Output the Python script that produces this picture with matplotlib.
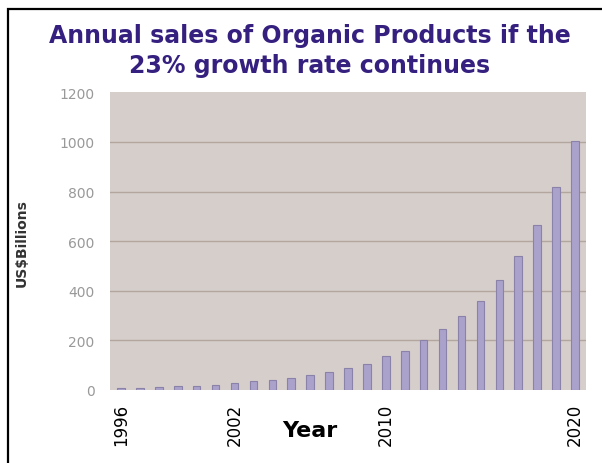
import matplotlib
matplotlib.use("Agg")
import matplotlib.pyplot as plt
from matplotlib.patches import Rectangle

# data (US$ billions)
years = list(range(1996, 2021))
sales = [8, 10, 12, 15, 18, 22, 30, 35, 40, 50, 60, 72, 90, 105, 136,
         158, 200, 246, 297, 360, 443, 542, 665, 820, 1005]
year_ticks = [1996, 2002, 2010, 2020]
y_ticks = [0, 200, 400, 600, 800, 1000, 1200]

title = "Annual sales of Organic Products if the\n23% growth rate continues"

fig = plt.figure(figsize=(6.02, 4.64), dpi=100)
fig.patch.set_facecolor("white")

# black frame round the picture (open at right and bottom edge)
fig.patches.append(Rectangle((8 / 602, -0.05), 1.2, 1 - 10 / 464 + 0.05,
                             transform=fig.transFigure, fill=False,
                             edgecolor="black", linewidth=1.6))

ax = fig.add_axes([110 / 602, 73 / 464, 476 / 602, 297.7 / 464])
ax.set_facecolor("#d6cecb")
ax.bar(years, sales, width=0.4, color="#aaa2cb", edgecolor="#8a82a8",
       linewidth=0.8, zorder=3)

ax.set_xlim(1995.42, 2020.58)
ax.set_ylim(0, 1200)
ax.set_yticks(y_ticks)
ax.set_yticklabels([str(v) for v in y_ticks], color="#999999", fontsize=10)
ax.set_xticks(year_ticks)
ax.set_xticklabels([str(y) for y in year_ticks], rotation=90, fontsize=12,
                   color="black")
ax.tick_params(axis="y", length=0, pad=11)
ax.tick_params(axis="x", length=0, pad=9)

for v in y_ticks[1:-1]:
    ax.axhline(v, color="#b3a69e", linewidth=1.0, zorder=1)

for s in ax.spines.values():
    s.set_visible(False)

ax.text(2006, -160, "Year", ha="center", va="center", fontsize=16,
        fontweight="bold", color="black")

fig.text(22 / 602, 1 - 243 / 464, "US$Billions", rotation=90, ha="center",
         va="center", fontsize=10, fontweight="bold", color="#333333")

fig.text(310 / 602, 1 - 51 / 464, title, ha="center", va="center",
         fontsize=17, fontweight="bold", color="#35207f", linespacing=1.3)

fig.savefig("out.png", dpi=100)
